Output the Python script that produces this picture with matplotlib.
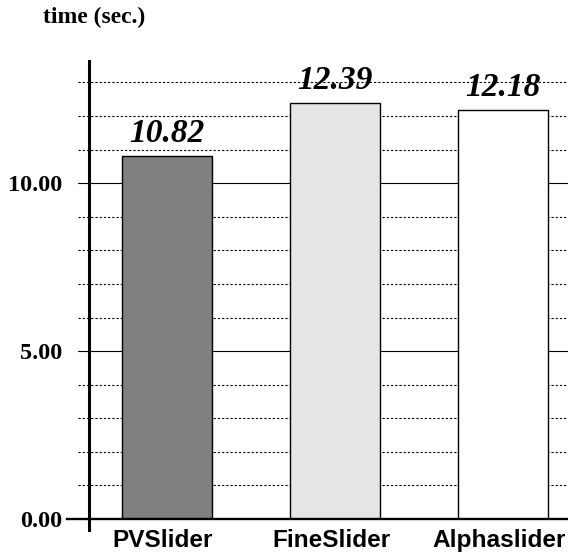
import matplotlib.pyplot as plt
import matplotlib.transforms as mtransforms

# datos del grafico
sliders = ['PVSlider', 'FineSlider', 'Alphaslider']
times = [10.82, 12.39, 12.18]
bar_colors = ['#808080', '#e5e5e5', '#ffffff']
tick_vals = [0, 5, 10]
tick_labels = ['0.00', '5.00', '10.00']

W, H = 568, 555
fig = plt.figure(figsize=(W / 100, H / 100), dpi=100)
ax = fig.add_axes([78 / W, 36 / H, 490 / W, 458 / H])

ymax = 13.64
ax.set_ylim(0, ymax)
ax.set_xlim(-0.530, 2.387)

# lineas de grilla
for v in range(1, 14):
    if v % 5 == 0:
        ax.axhline(v, color='black', lw=0.8, zorder=1)
    else:
        ax.axhline(v, color='black', lw=0.8, ls=(0, (2, 1.8)), zorder=1)

# linea del cero, un poco mas gruesa y sale a la izquierda
ax.plot([-11 / 490, 1], [0, 0], color='black', lw=1.7,
        transform=ax.get_yaxis_transform(), clip_on=False, zorder=3)

# eje vertical
ax.plot([-0.464, -0.464], [-0.33, ymax], color='black', lw=2.2,
        clip_on=False, zorder=3)

x = list(range(len(sliders)))
ax.bar(x, times, width=0.534, color=bar_colors, edgecolor='black',
       linewidth=1.0, zorder=2)

for xi, t in zip(x, times):
    ax.annotate(f'{t:.2f}', (xi, t), xytext=(0, 10), textcoords='offset points',
                ha='center', va='baseline', fontsize=24, fontweight='bold',
                fontstyle='italic', family='Liberation Serif')

for s in ax.spines.values():
    s.set_visible(False)

ax.set_yticks(tick_vals)
ax.set_yticklabels(tick_labels, fontsize=17.5, fontweight='bold', family='Liberation Serif')
ax.tick_params(axis='y', length=0, pad=11)
ax.set_xticks(x)
ax.set_xticklabels(sliders, fontsize=17.6, fontweight='bold', family='Liberation Sans')
ax.tick_params(axis='x', length=0, pad=7)
# las etiquetas estan un poco corridas a la izquierda
shift = mtransforms.ScaledTranslation(-4 / 100, 0, fig.dpi_scale_trans)
for lbl in ax.get_xticklabels():
    lbl.set_transform(lbl.get_transform() + shift)

fig.text(43 / W, 1 - 17 / H, 'time (sec.)', ha='left', va='center', fontsize=17,
         fontweight='bold', family='Liberation Serif')

fig.savefig('out.png', dpi=100)
